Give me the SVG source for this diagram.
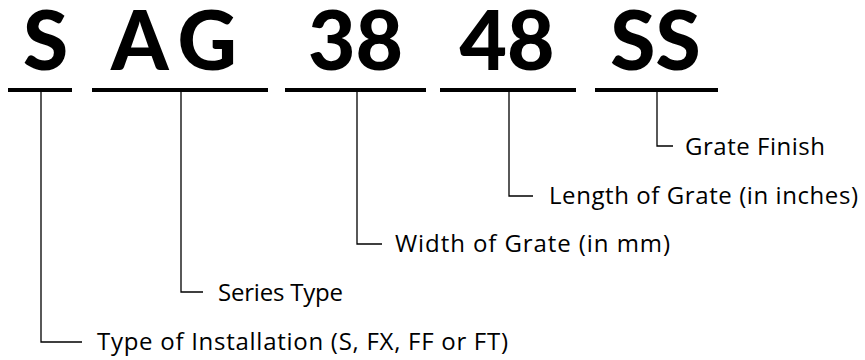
<svg xmlns="http://www.w3.org/2000/svg" width="865" height="360" viewBox="0 0 865 360">
<style>
.code{font-family:"Lato","Liberation Sans",sans-serif;font-weight:900;font-size:82px;fill:#000;text-anchor:middle}
.ul{stroke:#000;stroke-width:4;fill:none}
.ln{stroke:#000;stroke-width:1.3;fill:none}
.lbl{font-family:"Open Sans","Liberation Sans",sans-serif;font-size:24px;fill:#000}
</style>
<rect width="865" height="360" fill="#fff"/>
<g id="seg-s"><text class="code" x="45.5" y="70">S</text><line class="ul" x1="8" y1="90" x2="72" y2="90"/></g>
<g id="seg-ag"><text class="code" x="174" y="70" textLength="126" lengthAdjust="spacing">AG</text><line class="ul" x1="92" y1="90" x2="268" y2="90"/></g>
<g id="seg-38"><text class="code" x="355.5" y="70">38</text><line class="ul" x1="285" y1="90" x2="426" y2="90"/></g>
<g id="seg-48"><text class="code" x="507" y="70">48</text><line class="ul" x1="440" y1="90" x2="576" y2="90"/></g>
<g id="seg-ss"><text class="code" x="655.5" y="70">SS</text><line class="ul" x1="595" y1="90" x2="718" y2="90"/></g>
<g id="connectors">
<polyline class="ln" points="41,92 41,342 82,342"/>
<polyline class="ln" points="181,92 181,292 203,292"/>
<polyline class="ln" points="357,92 357,244 382,244"/>
<polyline class="ln" points="509,92 509,196 533,196"/>
<polyline class="ln" points="657,92 657,146 673,146"/>
</g>
<g id="lbl-install"><text class="lbl" x="97" y="350" textLength="411" lengthAdjust="spacing">Type of Installation (S, FX, FF or FT)</text></g>
<g id="lbl-series"><text class="lbl" x="218" y="301" textLength="125" lengthAdjust="spacing">Series Type</text></g>
<g id="lbl-width"><text class="lbl" x="395" y="252" textLength="275" lengthAdjust="spacing">Width of Grate (in mm)</text></g>
<g id="lbl-length"><text class="lbl" x="549" y="204" textLength="309" lengthAdjust="spacing">Length of Grate (in inches)</text></g>
<g id="lbl-finish"><text class="lbl" x="685" y="155" textLength="140" lengthAdjust="spacing">Grate Finish</text></g>
</svg>
